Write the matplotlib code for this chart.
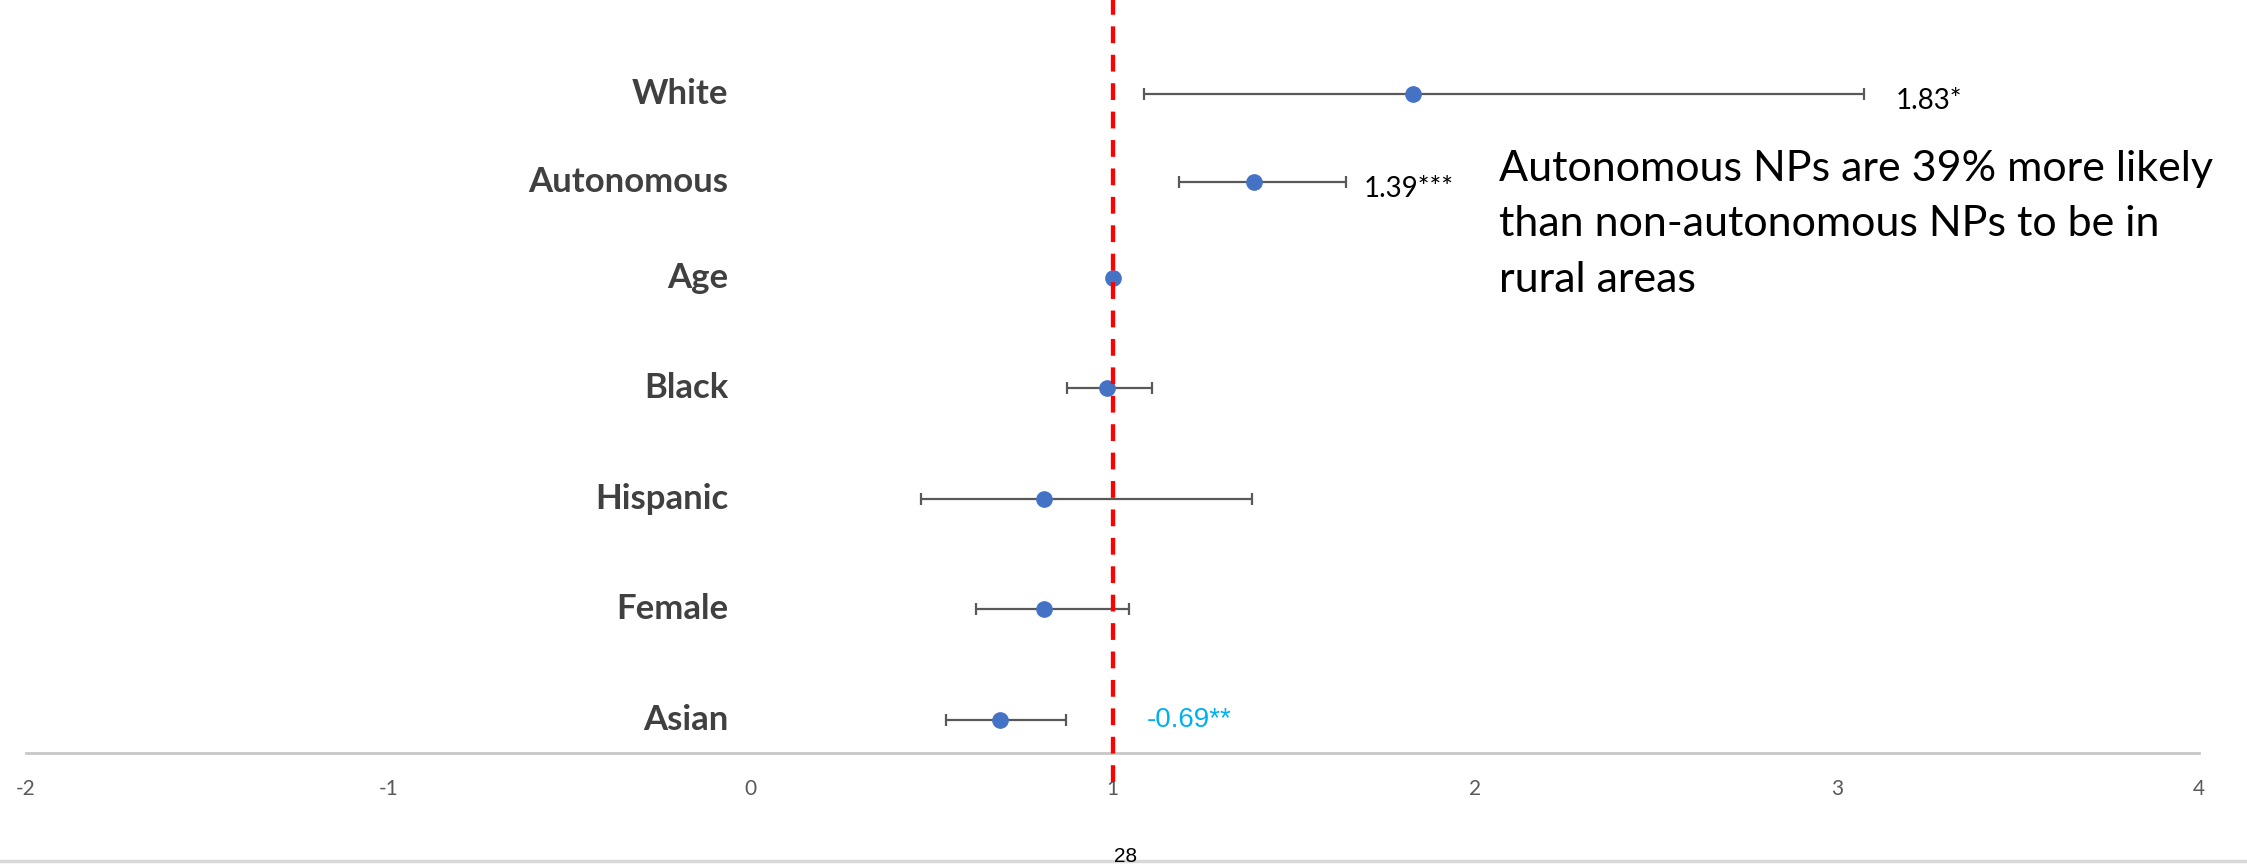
import matplotlib.pyplot as plt
from matplotlib.lines import Line2D

# Odds ratios with confidence intervals
variables = ['White', 'Autonomous', 'Age', 'Black', 'Hispanic', 'Female', 'Asian']
row_y = [5.96, 5.16, 4.30, 3.30, 2.30, 1.30, 0.30]
odds = [1.83, 1.39, 1.00, 0.985, 0.81, 0.81, 0.69]
ci_low = [1.087, 1.183, 0.99, 0.874, 0.471, 0.623, 0.54]
ci_high = [3.075, 1.644, 1.01, 1.109, 1.385, 1.046, 0.872]
x_ticks = [-2, -1, 0, 1, 2, 3, 4]

value_labels = {'White': '1.83*', 'Autonomous': '1.39***', 'Asian': '-0.69**'}
note = ('Autonomous NPs are 39% more likely\n'
        'than non-autonomous NPs to be in\n'
        'rural areas')

W, H = 2247, 864
fig = plt.figure(figsize=(W / 100, H / 100), dpi=100)
ax = fig.add_axes([26 / W, 111 / H, (2199 - 26) / W, 753 / H])

err_lo = [o - l for o, l in zip(odds, ci_low)]
err_hi = [h - o for o, h in zip(odds, ci_high)]
ax.errorbar(odds, row_y, xerr=[err_lo, err_hi], fmt='none', ecolor='#595959',
            elinewidth=1.6, capsize=4.5, capthick=1.6, zorder=2)
ax.plot(odds, row_y, 'o', color='#4472C4', markersize=11, zorder=3)

# reference line at OR = 1 (drawn bottom-up so the dash phase matches)
ax.plot([1, 1], [-0.262, 6.81], color='#FF0000', lw=3.1, ls=(0, (3.9, 2.7)),
        clip_on=False, zorder=4)

ax.set_xlim(-2, 4)
ax.set_ylim(0, 6.81)
ax.set_xticks(x_ticks)
ax.set_xticklabels([str(t) for t in x_ticks], fontfamily='Lato', fontsize=15,
                   color='#595959')
ax.tick_params(axis='x', length=0, pad=19)
ax.set_yticks([])
for s in ['top', 'right', 'left']:
    ax.spines[s].set_visible(False)
ax.spines['bottom'].set_color('#C8C8C8')
ax.spines['bottom'].set_linewidth(2)

# category labels
for name, y in zip(variables, row_y):
    ax.text(-0.06, y, name, ha='right', va='center', fontfamily='Lato',
            fontweight='bold', fontsize=25, color='#404040')

# significance labels
i = variables.index('White')
ax.annotate(value_labels['White'], (ci_high[i], row_y[i]), xytext=(23, -5),
            textcoords='offset points', ha='left', va='center',
            fontfamily='Lato', fontsize=20, color='black')
i = variables.index('Autonomous')
ax.annotate(value_labels['Autonomous'], (ci_high[i], row_y[i]), xytext=(13, -5),
            textcoords='offset points', ha='left', va='center',
            fontfamily='Lato', fontsize=20, color='black')
i = variables.index('Asian')
ax.text(1.095, row_y[i], value_labels['Asian'], ha='left', va='center',
        fontfamily='Liberation Sans', fontsize=20, color='#00B0F0')

# baseline alignment here refers to the last line of the block
ax.text(2.067, 4.17, note, ha='left', va='baseline', fontfamily='Lato',
        fontsize=31, linespacing=1.57, color='black', clip_on=False)

# slide footer
fig.add_artist(Line2D([0, 1], [3 / H, 3 / H], color='#D9D9D9', lw=2.5))
fig.text(1126 / W, 8 / H, '28', ha='center', va='center',
         fontfamily='Liberation Sans', fontsize=15, color='black')

fig.savefig('out.png', dpi=100)
